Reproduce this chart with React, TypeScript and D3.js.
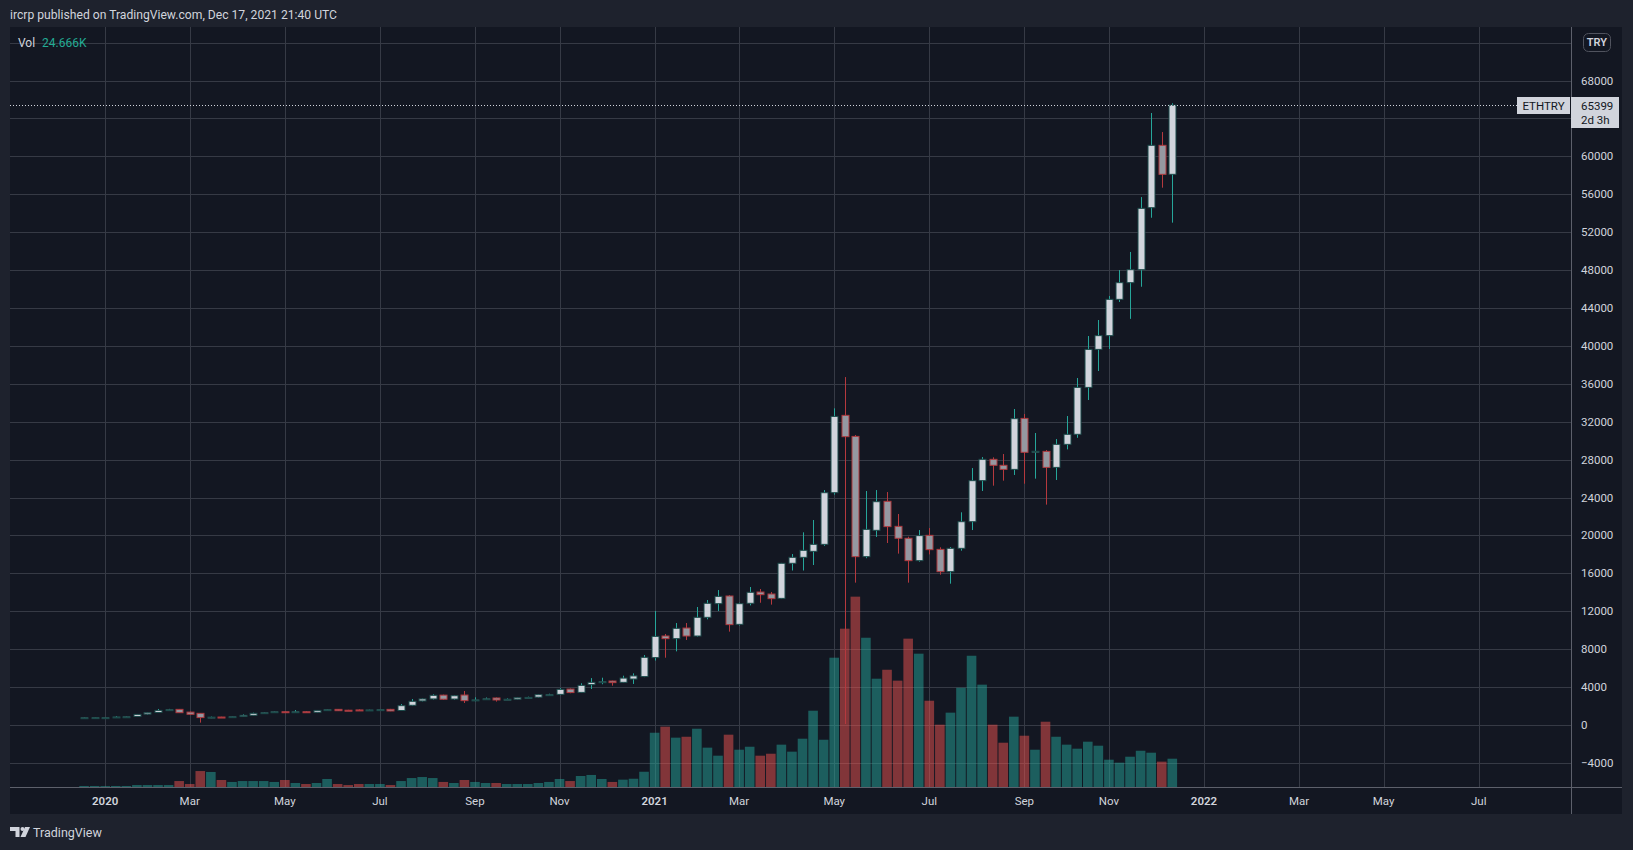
import * as d3 from 'd3';

// layout of the TradingView snapshot (px)
const W = 1633;
const H = 850;
const PANE = { left: 10, top: 27, right: 1571, bottom: 787 };
const AXIS_RIGHT = 1622;
const AXIS_BOTTOM = 814;

// weekly ETHTRY candles, Dec 23 2019 .. Dec 13 2021
const opens = [
  760, 770, 765, 810, 850, 900, 1150, 1320, 1600, 1650, 1360, 1230, 790, 840, 810, 890,
  1020, 1280, 1380, 1400, 1360, 1400, 1340, 1590, 1650, 1560, 1590, 1570, 1600, 1650, 1530, 2080,
  2540, 2750, 3150, 2740, 3160, 2600, 2730, 2850, 2690, 2720, 2880, 2940, 3170, 3230, 3790, 3440,
  4260, 4530, 4640, 4500, 4850, 5110, 7110, 9390, 9110, 10230, 9390, 11360, 12800, 13610, 10620, 12840,
  14030, 13820, 13360, 17060, 17690, 18320, 19060, 24510, 32670, 30450, 17760, 20540, 23600, 20960, 19700, 17340,
  20010, 18530, 16180, 18640, 21450, 25780, 28030, 27400, 26970, 32350, 28800, 28870, 27180, 29610, 30670, 35620,
  39630, 41080, 44910, 46670, 48040, 54580, 61160, 58100,
];
const highs = [
  800, 810, 800, 940, 900, 1160, 1320, 1690, 1700, 1690, 1420, 1260, 890, 870, 900, 1120,
  1300, 1340, 1430, 1440, 1580, 1450, 1560, 1650, 1680, 1600, 1650, 1620, 1640, 1700, 2210, 2740,
  2790, 3240, 3200, 3150, 3590, 2920, 2900, 2900, 2810, 2900, 2990, 3250, 3300, 3900, 3850, 4400,
  4950, 4990, 4680, 5200, 5450, 7380, 12030, 9600, 10760, 10760, 12450, 13190, 14240, 13700, 12900, 14560,
  14350, 14030, 17100, 18040, 20330, 21630, 24790, 33410, 36710, 30600, 24690, 24790, 24580, 22260, 19870, 20570,
  20780, 18750, 18780, 22440, 27110, 28270, 28240, 28590, 33340, 32810, 30810, 29010, 30170, 32600, 36610, 41040,
  42730, 45260, 48000, 49910, 55700, 64570, 62560, 65590,
];
const lows = [
  730, 740, 740, 770, 820, 890, 1100, 1310, 1500, 1280, 1100, 250, 720, 770, 770, 860,
  1000, 1250, 1350, 1330, 1300, 1300, 1320, 1570, 1480, 1520, 1540, 1540, 1570, 1460, 1480, 2000,
  2490, 2680, 2660, 2660, 2320, 2500, 2690, 2470, 2650, 2700, 2850, 2900, 3100, 3150, 3350, 3400,
  3800, 4300, 4150, 4450, 4330, 5050, 6800, 7100, 7770, 8970, 9320, 11150, 12030, 9850, 10500, 12620,
  12900, 12700, 13290, 16300, 16300, 16880, 18900, 24300, 100, 15020, 17600, 19840, 19200, 18080, 15020, 17230,
  18000, 15860, 14910, 18390, 20570, 24690, 25250, 25780, 26380, 25460, 25990, 23250, 25850, 29080, 30300, 34290,
  37350, 39670, 44630, 42850, 46240, 53520, 56690, 53000,
];
const closes = [
  770, 780, 775, 850, 870, 1120, 1300, 1540, 1620, 1300, 1130, 780, 830, 780, 880, 1020,
  1230, 1300, 1400, 1360, 1400, 1330, 1540, 1620, 1510, 1540, 1570, 1590, 1620, 1480, 2040, 2500,
  2750, 3130, 2720, 3090, 2570, 2650, 2770, 2640, 2720, 2880, 2910, 3200, 3200, 3760, 3420, 4180,
  4500, 4570, 4470, 4950, 5180, 7140, 9350, 9110, 10200, 9390, 11360, 12840, 13570, 10590, 12800, 14000,
  13750, 13330, 17060, 17690, 18430, 19060, 24510, 32560, 30420, 17760, 20640, 23560, 20930, 19700, 17340, 19980,
  18500, 16180, 18640, 21450, 25780, 28030, 27400, 26970, 32320, 28770, 28880, 27180, 29610, 30670, 35620, 39630,
  41080, 44910, 46670, 48040, 54510, 61160, 58100, 65399,
];
// weekly volume, thousands of ETH
const volumes = [
  0.9, 0.9, 0.8, 0.9, 0.9, 1.7, 1.7, 1.7, 1.7, 5.2, 2.6, 13.9, 13.1, 6.1, 4.4, 5.2,
  5.2, 5.2, 4.4, 6.1, 3.5, 2.6, 3.5, 7.0, 2.6, 1.7, 2.6, 2.6, 2.6, 1.7, 5.2, 7.8,
  8.7, 7.8, 4.4, 3.5, 6.1, 4.4, 3.5, 3.5, 2.6, 2.6, 2.6, 3.5, 4.4, 7.0, 5.2, 9.6,
  10.5, 7.0, 4.4, 6.4, 7.2, 13.3, 47.3, 52.6, 43.0, 43.8, 50.8, 34.3, 27.3, 45.6, 32.5, 35.1,
  27.3, 29.0, 36.9, 30.8, 42.1, 66.5, 41.2, 112.7, 138.0, 165.9, 130.1, 94.4, 102.2, 92.7, 129.3, 116.2,
  75.2, 54.3, 64.8, 86.5, 114.4, 89.2, 54.3, 38.6, 61.3, 44.7, 32.5, 56.9, 43.8, 36.9, 33.4, 39.5,
  36.0, 23.8, 21.2, 26.4, 31.6, 29.9, 22.1, 24.666,
];

const weeks = d3.timeMonday.range(new Date(2019, 11, 23), new Date(2021, 11, 14));

const timeTicks: [string, string][] = [
  ['2020-01-06', '2020'], ['2020-03-02', 'Mar'], ['2020-05-04', 'May'], ['2020-07-06', 'Jul'],
  ['2020-09-07', 'Sep'], ['2020-11-02', 'Nov'], ['2021-01-04', '2021'], ['2021-03-01', 'Mar'],
  ['2021-05-03', 'May'], ['2021-07-05', 'Jul'], ['2021-09-06', 'Sep'], ['2021-11-01', 'Nov'],
  ['2022-01-03', '2022'], ['2022-03-07', 'Mar'], ['2022-05-02', 'May'], ['2022-07-04', 'Jul'],
];
const priceTicks = [
  -4000, 0, 4000, 8000, 12000, 16000, 20000, 24000, 28000, 32000, 36000, 40000,
  44000, 48000, 52000, 56000, 60000, 64000, 68000, 72000,
];
// labels that sit under the currency button / last price tag
const hiddenLabels = [64000, 72000];
const lastPrice = 65399;

const C = {
  frame: '#1e222d',
  pane: '#131722',
  grid: '#363a45',
  axisLine: '#5d606b',
  text: '#d1d4dc',
  upFill: '#d1d4dc',
  upBorder: '#1d4b4b',
  upWick: '#26a69a',
  downFill: '#9598a1',
  downBorder: '#ae3a3f',
  downWick: '#b5393e',
  volUp: '#26a69a',
  volDown: '#ef5350',
};

const FONT = "Roboto, 'Noto Sans', sans-serif";

const parseDay = d3.timeParse('%Y-%m-%d');

export default function App() {
  const x = d3
    .scaleTime()
    .domain([new Date(2020, 0, 6), new Date(2022, 6, 4)])
    .range([105.2, 1478.7]);
  const y = d3.scaleLinear().domain([0, 68000]).range([725, 80.5]);
  const yVol = d3.scaleLinear().domain([0, 170]).range([PANE.bottom, PANE.bottom - 170 / 0.8716]);

  const bars = weeks.map((d, i) => ({
    date: d,
    o: opens[i],
    h: highs[i],
    l: lows[i],
    c: closes[i],
    v: volumes[i],
  }));

  const bodyW = 7;
  const volW = 9.6;

  return (
    <svg
      width={W}
      height={H}
      viewBox={`0 0 ${W} ${H}`}
      style={{ position: 'absolute', left: 0, top: 0, display: 'block' }}
      fontFamily={FONT}
    >
      <defs>
        <clipPath id="pane-clip">
          <rect x={PANE.left} y={PANE.top} width={PANE.right - PANE.left} height={PANE.bottom - PANE.top} />
        </clipPath>
      </defs>
      <rect x={0} y={0} width={W} height={H} fill={C.frame} />
      <rect x={PANE.left} y={PANE.top} width={AXIS_RIGHT - PANE.left} height={AXIS_BOTTOM - PANE.top} fill={C.pane} />

      {/* grid */}
      <g clipPath="url(#pane-clip)" stroke={C.grid} strokeWidth={1}>
        {priceTicks.map((p) => (
          <line key={p} x1={PANE.left} x2={PANE.right} y1={Math.round(y(p)) + 0.5} y2={Math.round(y(p)) + 0.5} />
        ))}
        {timeTicks.map(([d]) => {
          const xx = Math.round(x(parseDay(d)!)) + 0.5;
          return <line key={d} x1={xx} x2={xx} y1={PANE.top} y2={PANE.bottom} />;
        })}
      </g>

      {/* volume */}
      <g clipPath="url(#pane-clip)">
        {bars.map((b, i) => {
          const xx = x(b.date);
          const top = yVol(b.v);
          return (
            <rect
              key={i}
              x={xx - volW / 2}
              y={top}
              width={volW}
              height={PANE.bottom - top}
              fill={b.c >= b.o ? C.volUp : C.volDown}
              fillOpacity={0.5}
            />
          );
        })}
      </g>

      {/* candles */}
      <g clipPath="url(#pane-clip)">
        {bars.map((b, i) => {
          const up = b.c >= b.o;
          const xx = Math.round(x(b.date)) + 0.5;
          const yTop = y(Math.max(b.o, b.c));
          const yBot = y(Math.min(b.o, b.c));
          const hgt = Math.max(1, yBot - yTop);
          return (
            <g key={i}>
              <line x1={xx} x2={xx} y1={y(b.h)} y2={y(b.l)} stroke={up ? C.upWick : C.downWick} strokeWidth={1} />
              <rect
                x={xx - bodyW / 2}
                y={yTop}
                width={bodyW}
                height={hgt}
                fill={up ? C.upFill : C.downFill}
                stroke={up ? C.upBorder : C.downBorder}
                strokeWidth={1}
              />
            </g>
          );
        })}
      </g>

      {/* last price line */}
      <line
        x1={PANE.left}
        x2={1517}
        y1={Math.round(y(lastPrice)) + 0.5}
        y2={Math.round(y(lastPrice)) + 0.5}
        stroke={C.text}
        strokeWidth={1}
        strokeDasharray="1 2"
      />

      {/* axis borders */}
      <line x1={PANE.left} x2={AXIS_RIGHT} y1={PANE.bottom + 0.5} y2={PANE.bottom + 0.5} stroke={C.axisLine} />
      <line x1={PANE.right + 0.5} x2={PANE.right + 0.5} y1={PANE.top} y2={AXIS_BOTTOM} stroke={C.axisLine} />

      {/* price axis labels */}
      <g fill={C.text} fontSize={11.5}>
        {priceTicks
          .filter((p) => !hiddenLabels.includes(p))
          .map((p) => (
            <text key={p} x={1581} y={y(p)} dominantBaseline="central">
              {p < 0 ? `\u2212${Math.abs(p)}` : p}
            </text>
          ))}
      </g>

      {/* currency button */}
      <rect x={1583.5} y={33.5} width={27} height={18} rx={5} fill={C.pane} stroke="#50535e" />
      <text x={1597} y={42.5} fill={C.text} fontSize={11} fontWeight={600} textAnchor="middle" dominantBaseline="central">
        TRY
      </text>

      {/* time axis labels */}
      <g fill={C.text} fontSize={11.5} textAnchor="middle">
        {timeTicks.map(([d, label]) => (
          <text
            key={d}
            x={x(parseDay(d)!)}
            y={801}
            dominantBaseline="central"
            fontWeight={/^\d+$/.test(label) ? 600 : 400}
          >
            {label}
          </text>
        ))}
      </g>

      {/* symbol + last price tags */}
      <rect x={1517} y={97} width={53} height={17} fill={C.text} />
      <text x={1543.5} y={105.8} fill="#131722" fontSize={11.5} textAnchor="middle" dominantBaseline="central">
        ETHTRY
      </text>
      <rect x={1571} y={97} width={48} height={31} fill={C.text} />
      <text x={1581} y={105.5} fill="#131722" fontSize={11.5} dominantBaseline="central">
        {lastPrice}
      </text>
      <text x={1581} y={119.5} fill="#131722" fontSize={11.5} dominantBaseline="central">
        2d 3h
      </text>

      {/* header */}
      <text x={10} y={14.5} fill={C.text} fontSize={12.5} dominantBaseline="central" textLength={327} lengthAdjust="spacingAndGlyphs">
        ircrp published on TradingView.com, Dec 17, 2021 21:40 UTC
      </text>

      {/* volume legend */}
      <text x={18} y={42.5} fill={C.text} fontSize={12} dominantBaseline="central">
        Vol
      </text>
      <text x={42} y={42.5} fill="#22ab94" fontSize={12} dominantBaseline="central">
        24.666K
      </text>

      {/* footer */}
      <g fill={C.text}>
        <path d="M10,827 H19.5 V837 H15.5 V831 H10 Z" />
        <circle cx={22.5} cy={829} r={2} />
        <path d="M25,827 H30 L25.5,837 H20.5 Z" />
        <text x={33} y={832} fontSize={12.5} dominantBaseline="central">
          TradingView
        </text>
      </g>
    </svg>
  );
}
